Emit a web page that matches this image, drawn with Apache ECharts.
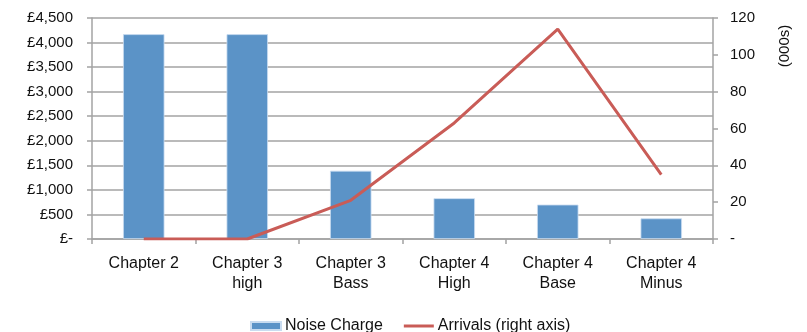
<!DOCTYPE html>
<html>
<head>
<meta charset="utf-8">
<script src="https://cdn.jsdelivr.net/npm/echarts@6/dist/echarts.min.js"></script>
<style>html,body{margin:0;padding:0;background:#fff}#c{width:807px;height:332px}</style>
</head>
<body>
<div id="c"></div>
<script>
const categories = ['Chapter 2', 'Chapter 3\nhigh', 'Chapter 3\nBass', 'Chapter 4\nHigh', 'Chapter 4\nBase', 'Chapter 4\nMinus'];
const noiseCharge = [4170, 4170, 1390, 830, 700, 420];
const arrivals = [0, 0, 21, 63, 114, 35];
const leftTicks = { min: 0, max: 4500, interval: 500 };
const rightTicks = { min: 0, max: 120, interval: 20 };

const FONT = '"Liberation Sans", Arial, sans-serif';
const TXT = '#111';
const GRID = '#a3a3a3';

const chart = echarts.init(document.getElementById('c'), null, { renderer: 'canvas' });
chart.setOption({
  animation: false,
  backgroundColor: '#fff',
  textStyle: { fontFamily: FONT, color: TXT },
  grid: { left: 92, right: 94, top: 18, bottom: 93, containLabel: false },
  legend: {
    left: 250, top: 318, padding: 0,
    itemWidth: 30, itemHeight: 8, itemGap: 21,
    textStyle: { fontFamily: FONT, fontSize: 16, color: TXT, padding: [0, 0, 0, -1] },
    data: [
      { name: 'Noise Charge', icon: 'rect' },
      { name: 'Arrivals (right axis)', icon: 'path://M0,0H30V3H0Z' }
    ]
  },
  xAxis: {
    type: 'category',
    data: categories,
    axisLine: { lineStyle: { color: GRID, width: 1.5 } },
    axisTick: { show: true, length: 5, lineStyle: { color: GRID, width: 1.5 } },
    axisLabel: { fontFamily: FONT, fontSize: 16, color: TXT, lineHeight: 20, margin: 15 }
  },
  yAxis: [
    {
      type: 'value', min: leftTicks.min, max: leftTicks.max, interval: leftTicks.interval,
      axisLine: { show: true, lineStyle: { color: GRID, width: 1.5 } },
      axisTick: { show: true, length: 5, lineStyle: { color: GRID, width: 1.5 } },
      splitLine: { show: true, lineStyle: { color: GRID, width: 1.5 } },
      axisLabel: {
        fontFamily: FONT, fontSize: 15, color: TXT, margin: 19,
        formatter: v => v === 0 ? '£-' : '£' + v.toLocaleString('en-GB')
      }
    },
    {
      type: 'value', min: rightTicks.min, max: rightTicks.max, interval: rightTicks.interval,
      position: 'right',
      axisLine: { show: true, lineStyle: { color: GRID, width: 1.5 } },
      axisTick: { show: true, length: 5, lineStyle: { color: GRID, width: 1.5 } },
      splitLine: { show: false },
      axisLabel: {
        fontFamily: FONT, fontSize: 15, color: TXT, margin: 17,
        formatter: v => v === 0 ? '-' : String(v)
      }
    }
  ],
  graphic: [{
    type: 'text', x: 785, y: 46, rotation: Math.PI / 2,
    style: { text: '(000s)', fontFamily: FONT, fontSize: 15, fill: TXT, align: 'center', verticalAlign: 'middle' }
  }],
  series: [
    {
      name: 'Noise Charge', type: 'bar', yAxisIndex: 0, data: noiseCharge,
      barWidth: '40%',
      itemStyle: { color: '#5b93c7', borderColor: '#c9dcf0', borderWidth: 0.8 }
    },
    {
      name: 'Arrivals (right axis)', type: 'line', yAxisIndex: 1, data: arrivals,
      symbol: 'none',
      lineStyle: { color: '#c95c57', width: 3 },
      itemStyle: { color: '#c95c57' }
    }
  ]
});
</script>
</body>
</html>
